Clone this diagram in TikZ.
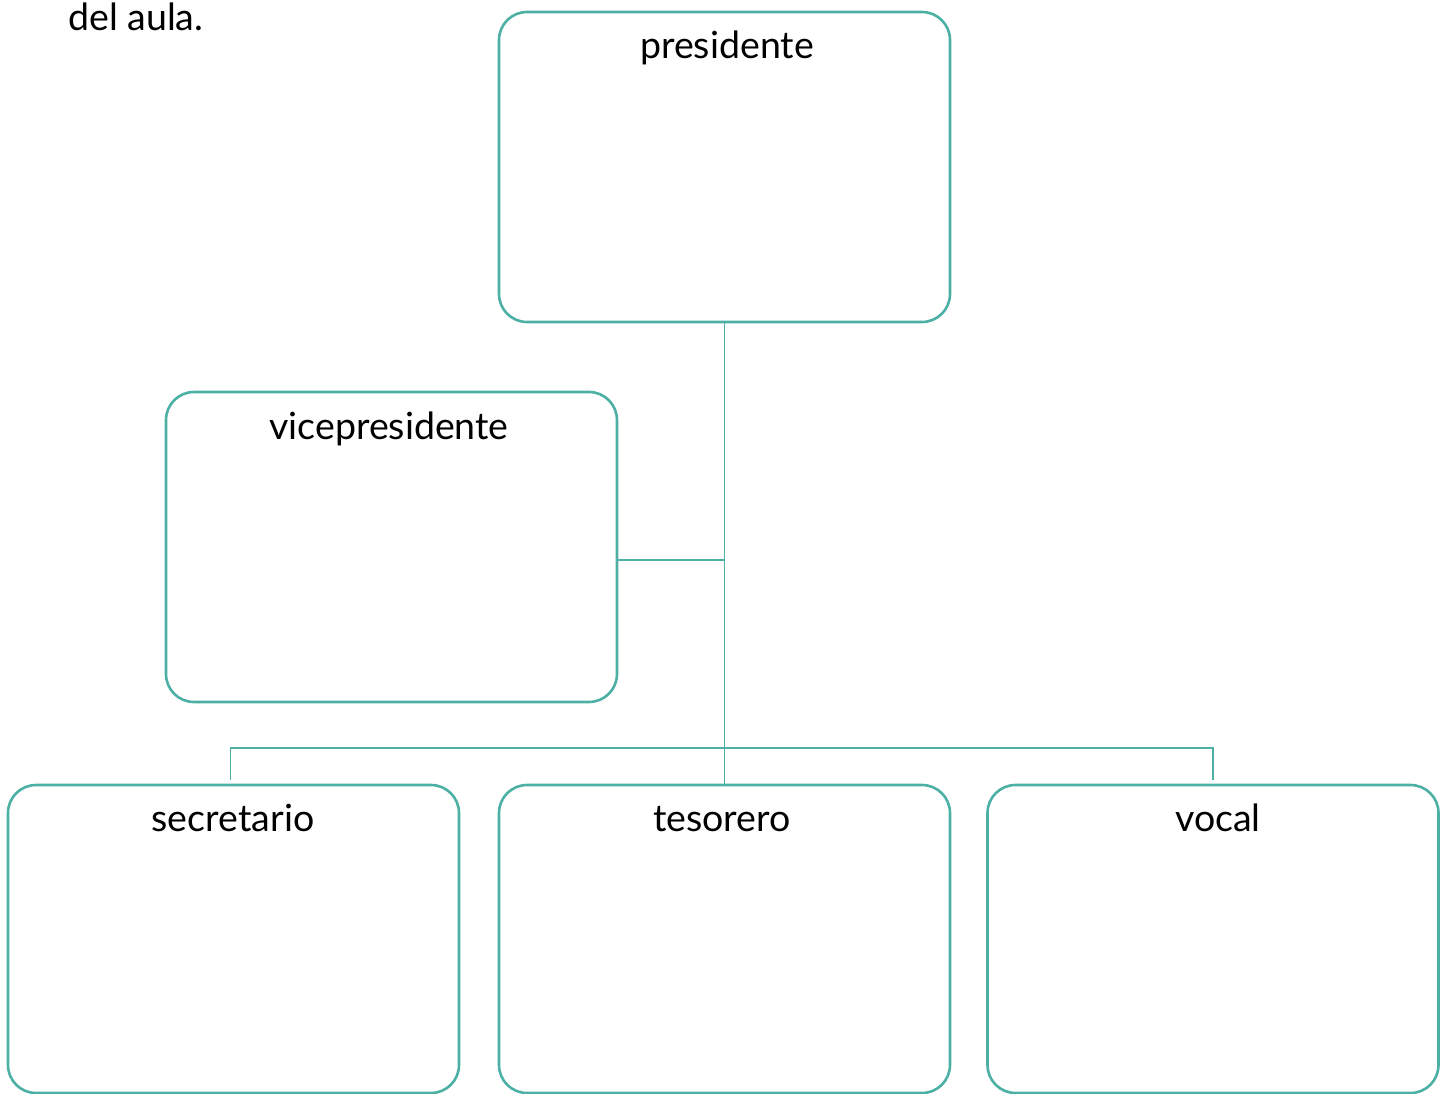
\documentclass[tikz,border=0pt]{standalone}
\usepackage{fontspec}
\setmainfont{Lato}
\definecolor{teal1}{HTML}{4DB0A5}
\begin{document}
\begin{tikzpicture}[x=1pt,y=-1pt,
  box/.style={draw=teal1,line width=2.6pt,rounded corners=28pt,minimum width=451pt,minimum height=310pt,inner sep=0pt},
  boxlabel/.style={font=\fontsize{37.5}{42}\selectfont,text=black,anchor=base},
  conn/.style={draw=teal1,line width=1.6pt}]
\useasboundingbox (0,0) rectangle (1446,1094);
\node[font=\fontsize{37.5}{42}\selectfont,anchor=base west,inner sep=0pt] (title) at (68,31) {del aula.};
\node[box] (pres) at (724.5,167) {};
\node[box] (vice) at (391.5,547) {};
\node[box,minimum height=308pt] (sec) at (233.5,939) {};
\node[box,minimum height=308pt] (tes) at (724.5,939) {};
\node[box,minimum height=308pt] (voc) at (1213,939) {};
\node[boxlabel] (presL) at (727,59) {presidente};
\node[boxlabel] (viceL) at (389,439) {vicepresidente};
\node[boxlabel] (secL) at (233,831) {secretario};
\node[boxlabel] (tesL) at (722,831) {tesorero};
\node[boxlabel] (vocL) at (1218,831) {vocal};
\coordinate (busmid) at (724,748);
\coordinate (vicejoin) at (724,560);
\draw[conn] (pres.south) -- (tes.north);
\draw[conn] (vice.east |- vicejoin) -- (vicejoin);
\draw[conn] ([xshift=-3pt,yshift=4pt]sec.north) |- (busmid) -| ([yshift=4pt]voc.north);
\end{tikzpicture}
\end{document}
